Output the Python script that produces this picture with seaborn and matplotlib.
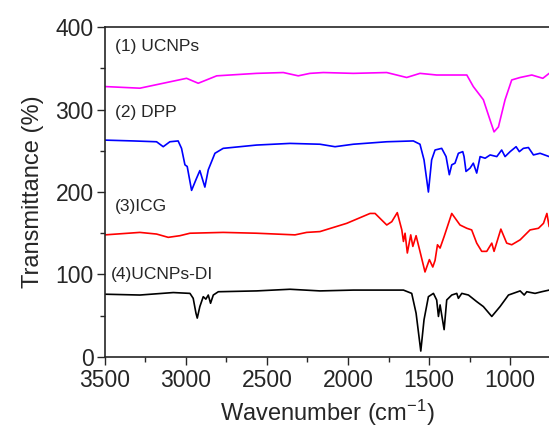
import pandas as pd
import matplotlib
matplotlib.use("Agg")
import matplotlib.pyplot as plt
import seaborn as sns
from matplotlib.ticker import MultipleLocator

# ==============================
# data
# ==============================
ucnps_x = [3500, 3284, 2996, 2924, 2810, 2564, 2399, 2307, 2235, 2152, 1967, 1761,
           1638, 1556, 1453, 1267, 1227, 1165, 1123, 1099, 1072, 1031, 990, 938,
           866, 798, 759]
ucnps_y = [328, 326, 338, 332, 341, 344, 345, 341, 344, 345, 344, 345,
           339, 344, 342, 342, 328, 312, 287, 273, 279, 312, 336, 339,
           342, 338, 344]

dpp_x = [3500, 3325, 3181, 3140, 3099, 3048, 3027, 3006, 2992, 2965, 2938, 2914,
         2883, 2862, 2821, 2770, 2564, 2358, 2173, 2080, 1967, 1761, 1597, 1556,
         1531, 1504, 1484, 1463, 1422, 1395, 1375, 1360, 1340, 1319, 1292, 1284,
         1272, 1247, 1227, 1206, 1185, 1154, 1123, 1082, 1052, 1031, 1000, 963,
         943, 918, 887, 856, 815, 759]
dpp_y = [263, 262, 261, 255, 261, 262, 253, 233, 231, 202, 215, 226,
         206, 227, 247, 253, 257, 259, 258, 255, 258, 261, 262, 258,
         239, 200, 239, 251, 253, 243, 221, 233, 235, 247, 249, 243,
         225, 229, 235, 223, 243, 241, 245, 243, 251, 243, 249, 255,
         249, 253, 254, 245, 247, 243]

icg_x = [3500, 3284, 3181, 3109, 3037, 2975, 2770, 2564, 2327, 2255, 2173, 2008,
         1864, 1833, 1792, 1761, 1730, 1696, 1668, 1658, 1648, 1634, 1613, 1600,
         1580, 1556, 1525, 1498, 1477, 1463, 1448, 1432, 1407, 1360, 1309, 1267,
         1237, 1206, 1175, 1144, 1113, 1099, 1057, 1021, 990, 938, 877, 825,
         794, 773, 759]
icg_y = [148, 151, 149, 145, 147, 150, 151, 150, 148, 151, 152, 162,
         174, 174, 166, 160, 164, 175, 154, 140, 150, 126, 148, 134,
         147, 128, 103, 118, 109, 117, 136, 132, 146, 174, 160, 156,
         154, 138, 128, 128, 138, 128, 155, 138, 136, 142, 154, 156,
         162, 174, 158]

di_x = [3500, 3284, 3078, 2975, 2955, 2938, 2930, 2914, 2893, 2877, 2862, 2848,
        2831, 2800, 2564, 2358, 2173, 1967, 1658, 1607, 1580, 1551, 1531, 1504,
        1473, 1453, 1442, 1432, 1407, 1391, 1360, 1329, 1319, 1298, 1257, 1206,
        1165, 1113, 1062, 1010, 938, 913, 897, 846, 805, 759]
di_y = [76, 75, 78, 77, 71, 53, 47, 61, 73, 70, 75, 65,
        75, 79, 80, 82, 80, 81, 81, 77, 53, 7, 45, 73,
        77, 69, 49, 63, 33, 69, 75, 77, 71, 77, 75, 67,
        61, 49, 61, 75, 80, 75, 79, 77, 79, 81]

labels = ["(1) UCNPs", "(2) DPP", "(3)ICG", "(4)UCNPs-DI"]
label_x = [3440, 3440, 3440, 3460]
label_y = [376, 297, 182, 100]
colors = ["#ff00ff", "#0000ff", "#ff0000", "#000000"]

# ==============================
# style
# ==============================
sns.set_style("ticks")
plt.rcParams['font.family'] = ['Liberation Sans', 'DejaVu Sans']
plt.rcParams['mathtext.default'] = 'regular'

frames = []
for name, xs, ys in zip(labels, [ucnps_x, dpp_x, icg_x, di_x],
                        [ucnps_y, dpp_y, icg_y, di_y]):
    frames.append(pd.DataFrame({"wn": xs, "T": ys, "sample": name}))
df = pd.concat(frames, ignore_index=True)

fig = plt.figure(figsize=(5.49, 4.32), dpi=100)
ax = fig.add_axes([0.191, 0.174, 0.809, 0.763])

sns.lineplot(data=df, x="wn", y="T", hue="sample", palette=colors,
             sort=False, estimator=None, linewidth=1.2, legend=False, ax=ax)

for t, tx, ty in zip(labels, label_x, label_y):
    ax.text(tx, ty, t, fontsize=12.5, ha="left", va="center")

ax.set_xlim(3500, 760)
ax.set_ylim(0, 400)
ax.xaxis.set_major_locator(MultipleLocator(500))
ax.xaxis.set_minor_locator(MultipleLocator(250))
ax.yaxis.set_major_locator(MultipleLocator(100))
ax.yaxis.set_minor_locator(MultipleLocator(50))
ax.tick_params(which="major", direction="out", length=6, width=1, labelsize=16.5, pad=2)
ax.tick_params(axis="x", which="major", pad=3)
ax.tick_params(which="minor", direction="out", length=3.5, width=1)
ax.spines["right"].set_visible(False)
for s in ["left", "bottom", "top"]:
    ax.spines[s].set_linewidth(1.2)

ax.set_xlabel("Wavenumber (cm$^{-1}$)", fontsize=17, labelpad=4)
ax.set_ylabel("Transmittance (%)", fontsize=17, labelpad=8)

fig.savefig("out.png", dpi=100)
